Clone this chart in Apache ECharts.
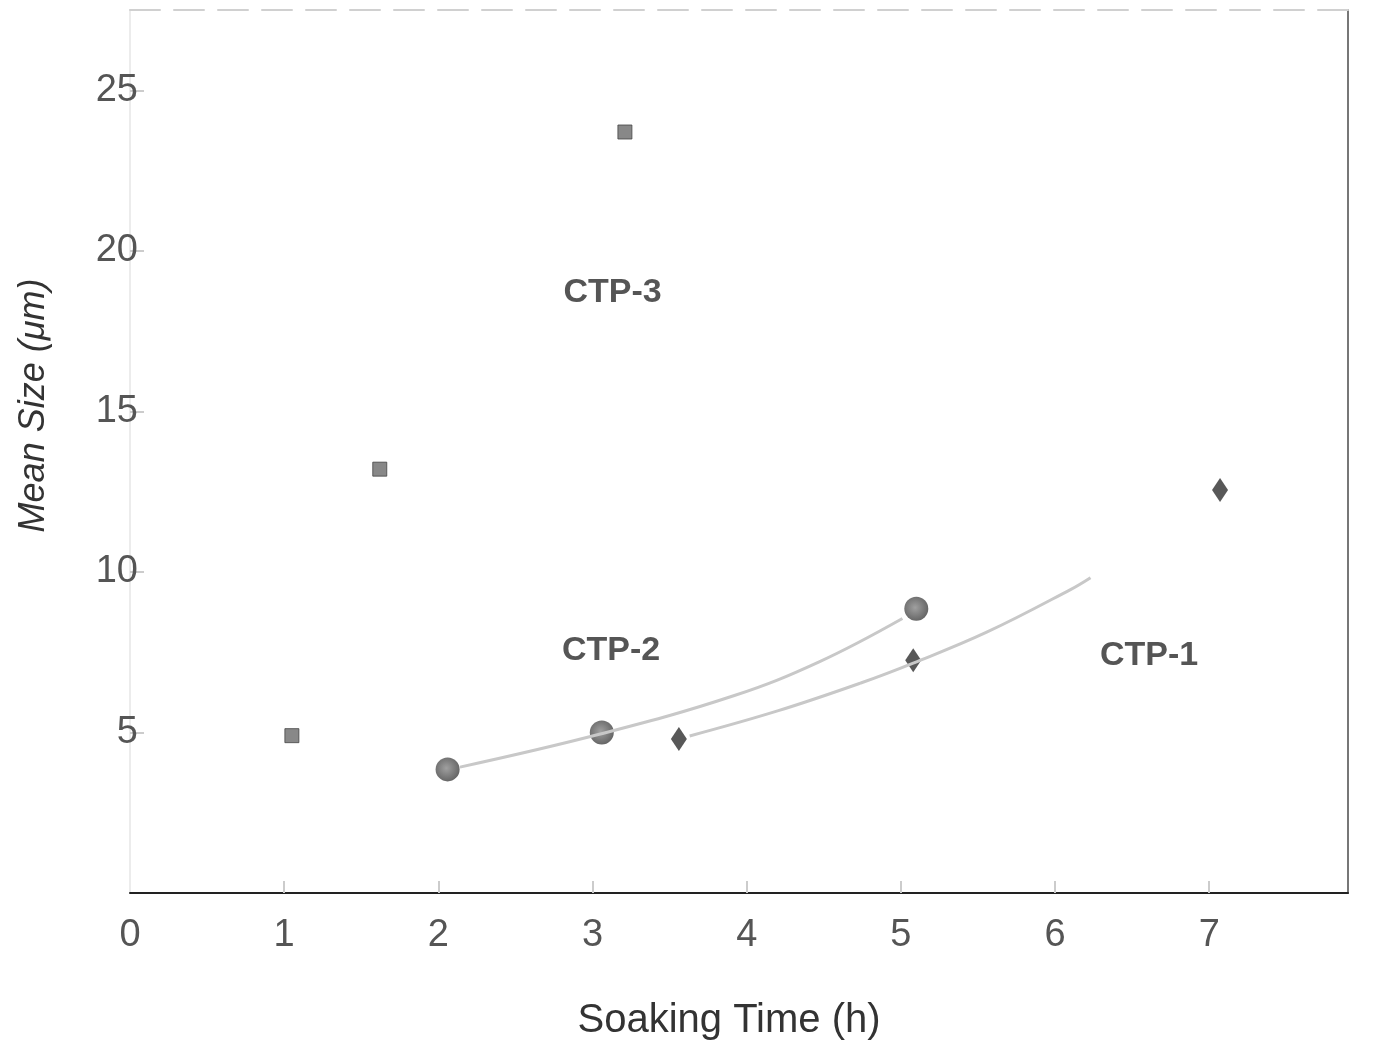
<!DOCTYPE html>
<html>
<head>
<meta charset="utf-8">
<script src="https://cdn.jsdelivr.net/npm/echarts@6/dist/echarts.min.js"></script>
<style>
html,body{margin:0;padding:0;background:#fff;}
#chart{width:1378px;height:1048px;}
</style>
</head>
<body>
<div id="chart"></div>
<script>
// ---- data ----
const xTicks = [0, 1, 2, 3, 4, 5, 6, 7];
const yTicks = [5, 10, 15, 20, 25];

const ctp3X = [1.05, 1.62, 3.21];
const ctp3Y = [4.9, 13.2, 23.7];

const ctp2X = [2.06, 3.06, 5.10];
const ctp2Y = [3.85, 5.0, 8.85];

const ctp1X = [3.56, 5.08, 7.07];
const ctp1Y = [4.8, 7.25, 12.55];

// fitted curves
const fit2X = [2.14, 3.05, 3.92, 4.47, 5.01];
const fit2Y = [3.92, 4.95, 6.15, 7.2, 8.55];
const fit1X = [3.63, 4.20, 4.74, 5.08, 5.56, 6.10, 6.23];
const fit1Y = [4.89, 5.67, 6.54, 7.16, 8.13, 9.45, 9.82];

const labelNames = ['CTP-3', 'CTP-2', 'CTP-1'];
const labelX = [3.13, 3.12, 6.61];
const labelY = [18.7, 7.55, 7.4];

const zip = (a, b) => a.map((v, i) => [v, b[i]]);

const chart = echarts.init(document.getElementById('chart'), null, {renderer: 'canvas'});
const font = 'Liberation Sans, Arial, sans-serif';

chart.setOption({
  animation: false,
  backgroundColor: '#fff',
  grid: {left: 130, right: 30, top: 10, bottom: 155, containLabel: false},
  xAxis: [{
    type: 'value', min: 0, max: 7.9, interval: 1, position: 'bottom',
    name: 'Soaking Time (h)', nameLocation: 'middle', nameGap: 108,
    nameTextStyle: {fontFamily: font, fontSize: 40, color: '#333', padding: [0, 20, 0, 0]},
    axisLine: {show: true, onZero: false, lineStyle: {color: '#222', width: 2}},
    axisTick: {show: true, inside: true, length: 12, lineStyle: {color: '#ccc', width: 2}, customValues: [1,2,3,4,5,6,7]},
    axisLabel: {fontFamily: font, fontSize: 38, color: '#555', margin: 24, customValues: xTicks},
    splitLine: {show: false}
  }, {
    type: 'value', min: 0, max: 7.9, position: 'top',
    axisLine: {show: true, onZero: false, lineStyle: {color: '#d0d0d0', width: 2, type: [30, 14]}},
    axisTick: {show: false}, axisLabel: {show: false}, splitLine: {show: false}
  }],
  yAxis: [{
    type: 'value', min: 0, max: 27.5, interval: 5, position: 'left',
    name: 'Mean Size (μm)', nameLocation: 'middle', nameGap: 78,
    nameTextStyle: {fontFamily: font, fontSize: 36, color: '#333', fontStyle: 'italic', padding: [0, 0, 0, 92]},
    axisLine: {show: true, onZero: false, lineStyle: {color: '#ececec', width: 2}},
    axisTick: {show: true, inside: true, length: 14, lineStyle: {color: '#ccc', width: 2}, customValues: yTicks},
    axisLabel: {fontFamily: font, fontSize: 38, color: '#555', margin: -8, customValues: yTicks},
    splitLine: {show: false}
  }, {
    type: 'value', min: 0, max: 27.5, position: 'right',
    axisLine: {show: true, onZero: false, lineStyle: {color: '#777', width: 2}},
    axisTick: {show: false}, axisLabel: {show: false}, splitLine: {show: false}
  }],
  series: [
    {type: 'line', data: zip(fit2X, fit2Y), smooth: 0.4, symbol: 'none',
     lineStyle: {color: '#c8c8c8', width: 3}, silent: true},
    {type: 'line', data: zip(fit1X, fit1Y), smooth: 0.4, symbol: 'none',
     lineStyle: {color: '#c8c8c8', width: 3}, silent: true},
    {type: 'scatter', name: 'CTP-3', data: zip(ctp3X, ctp3Y), symbol: 'rect', symbolSize: 14,
     itemStyle: {color: '#6a6a6a', borderColor: '#444', borderWidth: 1}},
    {type: 'scatter', name: 'CTP-2', data: zip(ctp2X, ctp2Y), symbol: 'circle', symbolSize: 24,
     itemStyle: {color: {type: 'radial', x: 0.45, y: 0.45, r: 0.6,
       colorStops: [{offset: 0, color: '#888'}, {offset: 1, color: '#3a3a3a'}]}}},
    {type: 'scatter', name: 'CTP-1', data: zip(ctp1X, ctp1Y), symbol: 'diamond', symbolSize: [16, 24],
     itemStyle: {color: '#2e2e2e'}},
    {type: 'scatter', data: labelNames.map((n, i) => ({name: n, value: [labelX[i], labelY[i]]})),
     symbolSize: 0, silent: true,
     label: {show: true, position: 'inside', formatter: p => p.name,
       fontFamily: font, fontSize: 34, fontWeight: 'bold', color: '#2a2a2a'}}
  ]
});
</script>
</body>
</html>
